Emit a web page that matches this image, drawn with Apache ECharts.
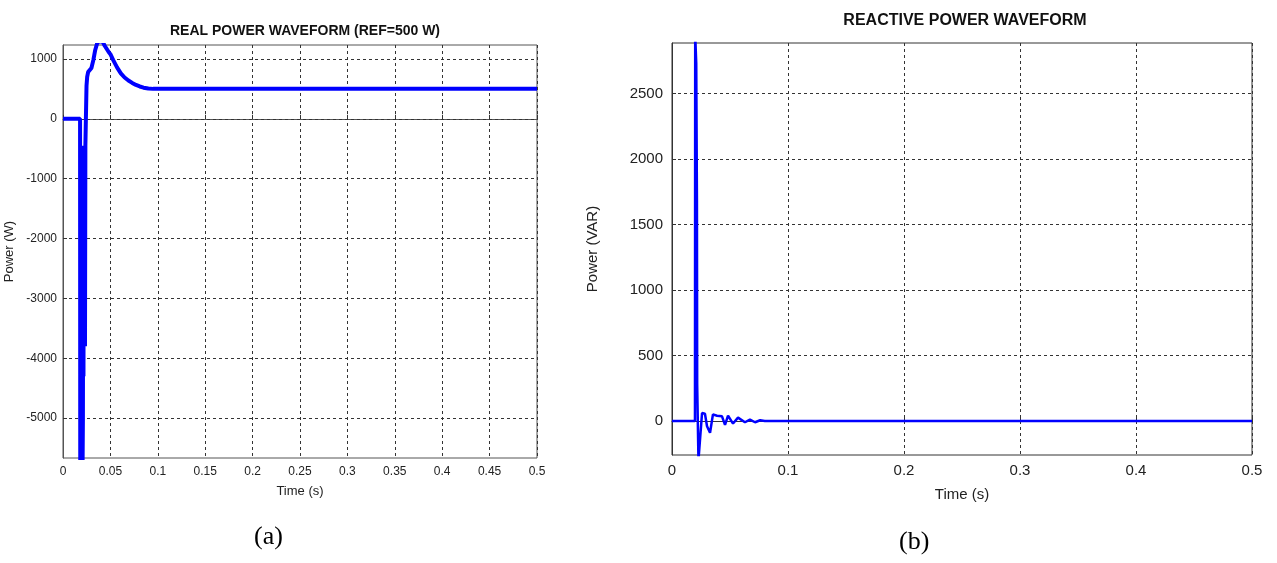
<!DOCTYPE html>
<html><head><meta charset="utf-8">
<script src="https://cdn.jsdelivr.net/npm/echarts@6/dist/echarts.min.js"></script>
<style>html,body{margin:0;padding:0;background:#fff;}#c{width:1277px;height:563px;}</style>
</head><body><div id="c"></div>
<script>
// Real power waveform (a)
const realTime  = [0, 0.0180, 0.0182, 0.0190, 0.0193, 0.0196, 0.0200, 0.0203, 0.0206, 0.0210, 0.0213, 0.0216, 0.0220, 0.0224, 0.0228, 0.0232, 0.0236, 0.0240, 0.0248, 0.0255, 0.0265, 0.028, 0.030, 0.032, 0.034, 0.036, 0.038, 0.040, 0.042, 0.044, 0.046, 0.048, 0.050, 0.053, 0.057, 0.061, 0.065, 0.069, 0.073, 0.077, 0.081, 0.085, 0.090, 0.095, 0.10, 0.20, 0.30, 0.40, 0.50];
const realPower = [0, 0, -5900, -5900, -2300, -5900, -5900, -2300, -5900, -5000, -2300, -4300, -450, -2300, -450, -3800, -450, -450, 550, 700, 780, 800, 850, 980, 1150, 1260, 1300, 1300, 1280, 1220, 1170, 1120, 1080, 980, 860, 760, 690, 640, 600, 565, 540, 520, 505, 500, 500, 500, 500, 500, 500];
const yTicksA = [-5000, -4000, -3000, -2000, -1000, 0, 1000];

// Reactive power waveform (b)
const reactTime  = [0, 0.0198, 0.0200, 0.0207, 0.0209, 0.0212, 0.0215, 0.0217, 0.0225, 0.0228, 0.0240, 0.0259, 0.0284, 0.0302, 0.0328, 0.0353, 0.0388, 0.0431, 0.0457, 0.0483, 0.0526, 0.0569, 0.0629, 0.0672, 0.0716, 0.0760, 0.0800, 0.10, 0.20, 0.30, 0.40, 0.50];
const reactPower = [0, 0, 2950, 2950, 2730, 2730, 1680, 285, 285, -300, -300, 60, 55, -40, -90, 50, 40, 35, -30, 40, -20, 25, -10, 10, -10, 5, 0, 0, 0, 0, 0, 0];
const yTicksB = [0, 500, 1000, 1500, 2000, 2500];

const realData = realTime.map((t, i) => [t, realPower[i]]);
const reactData = reactTime.map((t, i) => [t, reactPower[i]]);

const lab = 'Liberation Sans Narrow, Liberation Sans, Arial, sans-serif';
const gridLine = {show: true, lineStyle: {color: '#333', type: [3, 3], width: 1}};
const plain = v => String(v);

const chart = echarts.init(document.getElementById('c'), null, {renderer: 'canvas'});
chart.setOption({
  animation: false,
  backgroundColor: '#fff',
  title: [
    {text: 'REAL POWER WAVEFORM (REF=500 W)', left: 300, top: 19, textAlign: 'center',
     textStyle: {fontFamily: lab, fontSize: 14, fontWeight: 'bold', color: '#111'}},
    {text: 'REACTIVE POWER WAVEFORM', left: 960, top: 8, textAlign: 'center',
     textStyle: {fontFamily: lab, fontSize: 16, fontWeight: 'bold', color: '#111'}}
  ],
  grid: [
    {left: 63, top: 45, width: 474, height: 413, show: true, borderColor: '#555', borderWidth: 1, containLabel: false},
    {left: 672, top: 43, width: 580, height: 412, show: true, borderColor: '#333', borderWidth: 1, containLabel: false}
  ],
  xAxis: [
    {type: 'value', gridIndex: 0, min: 0, max: 0.5, interval: 0.05,
     name: 'Time (s)', nameLocation: 'middle', nameGap: 27,
     nameTextStyle: {fontFamily: lab, fontSize: 13, color: '#222'},
     axisLine: {show: true, lineStyle: {color: '#555'}},
     axisTick: {show: true, inside: true, length: 4, lineStyle: {color: '#333'}},
     axisLabel: {fontFamily: lab, fontSize: 12, color: '#222', margin: 8, formatter: plain},
     splitLine: gridLine},
    {type: 'value', gridIndex: 1, min: 0, max: 0.5, interval: 0.1,
     name: 'Time (s)', nameLocation: 'middle', nameGap: 32,
     nameTextStyle: {fontFamily: lab, fontSize: 15, color: '#222'},
     axisLine: {show: true, lineStyle: {color: '#333'}},
     axisTick: {show: true, inside: true, length: 4, lineStyle: {color: '#333'}},
     axisLabel: {fontFamily: lab, fontSize: 15, color: '#222', margin: 8, formatter: plain},
     splitLine: gridLine}
  ],
  yAxis: [
    {type: 'value', gridIndex: 0, min: -5667, max: 1233,
     name: 'Power (W)', nameLocation: 'middle', nameGap: 47,
     nameTextStyle: {fontFamily: lab, fontSize: 13, color: '#222'},
     axisLine: {show: true, lineStyle: {color: '#555'}},
     axisTick: {show: true, inside: true, length: 4, customValues: yTicksA, lineStyle: {color: '#333'}},
     axisLabel: {fontFamily: lab, fontSize: 12, color: '#222', margin: 6, customValues: yTicksA, formatter: plain},
     splitLine: {show: false}},
    {type: 'value', gridIndex: 1, min: -260, max: 2885,
     name: 'Power (VAR)', nameLocation: 'middle', nameGap: 72,
     nameTextStyle: {fontFamily: lab, fontSize: 15, color: '#222'},
     axisLine: {show: true, lineStyle: {color: '#333'}},
     axisTick: {show: true, inside: true, length: 4, customValues: yTicksB, lineStyle: {color: '#333'}},
     axisLabel: {fontFamily: lab, fontSize: 15, color: '#222', margin: 9, customValues: yTicksB, formatter: plain},
     splitLine: {show: false}}
  ],
  series: [
    {type: 'line', xAxisIndex: 0, yAxisIndex: 0, data: realData, showSymbol: false, clip: true,
     lineStyle: {color: '#0000ff', width: 4}, z: 3,
     markLine: {silent: true, symbol: 'none', label: {show: false},
       lineStyle: {color: '#333', type: [3, 3], width: 1}, z: 1,
       data: yTicksA.map(v => ({yAxis: v}))}},
    {type: 'line', xAxisIndex: 1, yAxisIndex: 1, data: reactData, showSymbol: false, clip: true,
     lineStyle: {color: '#0000ff', width: 2.5}, z: 3,
     markLine: {silent: true, symbol: 'none', label: {show: false},
       lineStyle: {color: '#333', type: [3, 3], width: 1}, z: 1,
       data: yTicksB.map(v => ({yAxis: v}))}}
  ],
  graphic: [
    {type: 'text', left: 254, top: 524, style: {text: '(a)', font: '26px "Liberation Serif", "DejaVu Serif", serif', fill: '#000'}},
    {type: 'text', left: 899, top: 529, style: {text: '(b)', font: '26px "Liberation Serif", "DejaVu Serif", serif', fill: '#000'}}
  ]
});
</script></body></html>
